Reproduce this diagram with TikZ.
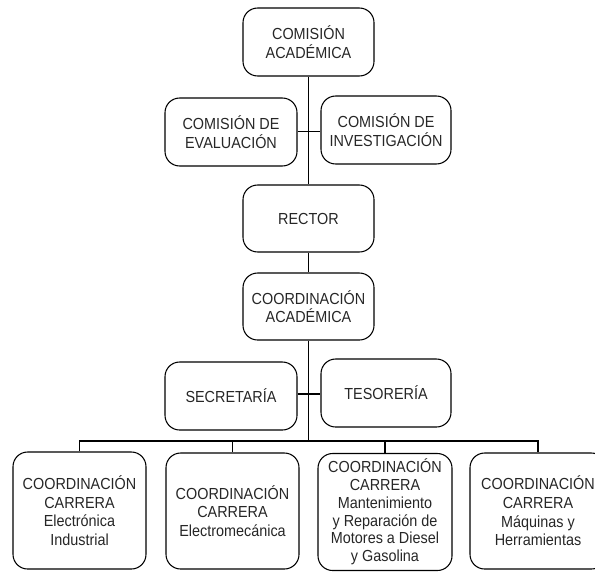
\documentclass[tikz,border=0pt]{standalone}
\usepackage{fontspec}
\setmainfont{Liberation Sans}[FakeStretch=0.9]
\definecolor{textc}{HTML}{262626}
\begin{document}
\begin{tikzpicture}[x=0.75pt,y=-0.75pt,
  box/.style={draw=black,line width=0.8pt,rounded corners=11pt,align=center,
    inner sep=0pt,text=textc,font=\fontsize{12}{14}\selectfont},
  conn/.style={draw=black,line width=0.8pt}]
\useasboundingbox (0,0) rectangle (595,571);
\clip (0,0) rectangle (595,571);
\node[box,minimum width=98.25pt,minimum height=51pt] (ca) at (308.5,42) {COMISIÓN\\ACADÉMICA};
\node[box,minimum width=99pt,minimum height=51pt] (eval) at (231,132) {COMISIÓN DE\\EVALUACIÓN};
\node[box,minimum width=97.5pt,minimum height=51pt] (inv) at (386,130) {COMISIÓN DE\\INVESTIGACIÓN};
\node[box,minimum width=98.25pt,minimum height=50.25pt] (rector) at (308.5,218.5) {RECTOR};
\node[box,minimum width=98.25pt,minimum height=50.25pt] (coord) at (308.5,306.5) {COORDINACIÓN\\ACADÉMICA};
\node[box,minimum width=99pt,minimum height=51pt] (sec) at (231,396) {SECRETARÍA};
\node[box,minimum width=97.5pt,minimum height=51pt] (tes) at (386,393) {TESORERÍA};
\node[box,minimum width=99.75pt,minimum height=87.75pt] (b1) at (79.5,510.5) {COORDINACIÓN\\CARRERA\\Electrónica\\Industrial};
\node[box,minimum width=99.75pt,minimum height=87pt] (b2) at (232.5,511) {COORDINACIÓN\\CARRERA\\Electromecánica};
\node[box,minimum width=100.5pt,minimum height=87.75pt,font=\fontsize{12}{13.3}\selectfont] (b3) at (385,512) {COORDINACIÓN\\CARRERA\\Mantenimiento\\y Reparación de\\Motores a Diesel\\y Gasolina};
\node[box,minimum width=102pt,minimum height=87pt] (b4) at (538,511) {COORDINACIÓN\\CARRERA\\Máquinas y\\Herramientas};
\coordinate (h1) at (308.5,131.5);
\coordinate (h2) at (308.5,394);
\coordinate (bus) at (308.5,441);
\draw[conn] (ca) -- (rector);
\draw[conn] (rector) -- (coord);
\draw[conn] (coord) -- (bus);
\draw[conn] (eval.east |- h1) -- (inv.west |- h1);
\draw[conn] (sec.east |- h2) -- (tes.west |- h2);
\draw[conn] (b1.north) |- (b4.north |- bus) -- (b4.north);
\draw[conn] (b2.north) -- (b2.north |- bus);
\draw[conn] (b3.north) -- (b3.north |- bus);
\end{tikzpicture}
\end{document}
